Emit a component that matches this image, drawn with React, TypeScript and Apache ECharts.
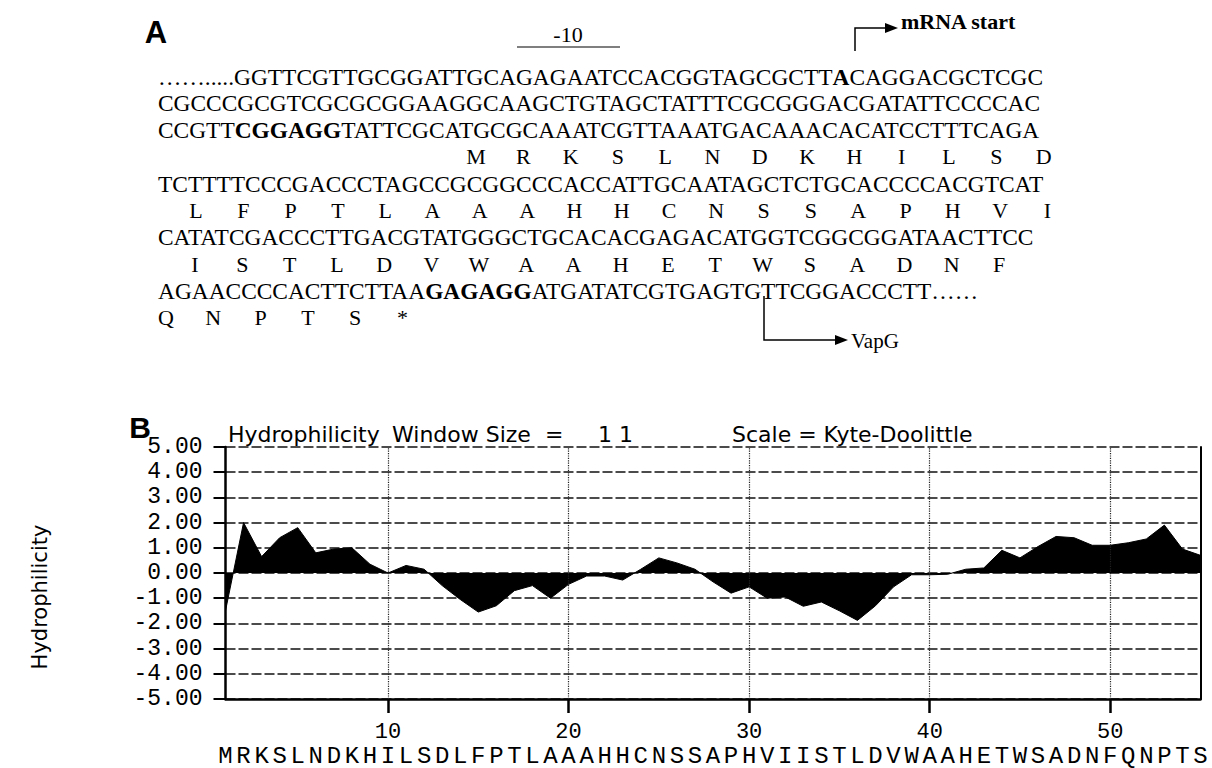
import React, { useEffect, useRef } from "react";
import * as echarts from "echarts";

const SERIF = '"Liberation Serif", "Times New Roman", serif';
const SANS = '"Liberation Sans", Arial, sans-serif';
const WIDE_SANS = '"DejaVu Sans", "Liberation Sans", sans-serif';
const MONO = '"Liberation Mono", "Courier New", monospace';

// Panel B data
const residues = "MRKSLNDKHILSDLFPTLAAAHHCNSSAPHVIISTLDVWAAHETWSADNFQNPTS".split("");
const hydrophilicity = [
  -1.5, 2.0, 0.65, 1.4, 1.8, 0.8, 0.95, 1.0, 0.35, 0.0,
  0.3, 0.15, -0.5, -1.05, -1.55, -1.3, -0.7, -0.5, -1.0, -0.45,
  -0.12, -0.12, -0.28, 0.15, 0.6, 0.4, 0.15, -0.35, -0.8, -0.55,
  -1.0, -0.95, -1.32, -1.15, -1.5, -1.88, -1.3, -0.55, -0.07, -0.07,
  -0.05, 0.15, 0.2, 0.9, 0.6, 1.05, 1.45, 1.4, 1.1, 1.1,
  1.2, 1.35, 1.9, 0.95, 0.7,
];
const xTicks = [10, 20, 30, 40, 50];
const yMin = -5;
const yMax = 5;

// Panel A sequence text
type Seg = [string, boolean];
const dnaLines: { row: number; segs: Seg[] }[] = [
  { row: 0, segs: [["…….....", false], ["GGTTCGTTGCGGATTGCAGAGAATCCACGGTAGCGCTT", false], ["A", true], ["CAGGACGCTCGC", false]] },
  { row: 1, segs: [["CGCCCGCGTCGCGCGGAAGGCAAGCTGTAGCTATTTCGCGGGACGATATTCCCCAC", false]] },
  { row: 2, segs: [["CCGTT", false], ["CGGAGG", true], ["TATTCGCATGCGCAAATCGTTAAATGACAAACACATCCTTTCAGA", false]] },
  { row: 4, segs: [["TCTTTTCCCGACCCTAGCCGCGGCCCACCATTGCAATAGCTCTGCACCCCACGTCAT", false]] },
  { row: 6, segs: [["CATATCGACCCTTGACGTATGGGCTGCACACGAGACATGGTCGGCGGATAACTTCC", false]] },
  { row: 8, segs: [["AGAACCCCACTTCTTAA", false], ["GAGAGG", true], ["ATGATATCGTGAGTGTTCGGACCCTT……", false]] },
];
const aaRows: { row: number; x0: number; letters: string[] }[] = [
  { row: 3, x0: 476, letters: ["M", "R", "K", "S", "L", "N", "D", "K", "H", "I", "L", "S", "D"] },
  { row: 5, x0: 196, letters: ["L", "F", "P", "T", "L", "A", "A", "A", "H", "H", "C", "N", "S", "S", "A", "P", "H", "V", "I"] },
  { row: 7, x0: 195, letters: ["I", "S", "T", "L", "D", "V", "W", "A", "A", "H", "E", "T", "W", "S", "A", "D", "N", "F"] },
  { row: 9, x0: 166, letters: ["Q", "N", "P", "T", "S", "*"] },
];

const rowY = (k: number) => 76.5 + 26.8 * k;
const CODON = 47.3;
const SEQ_FONT = 23.4;

function buildGraphics(): any[] {
  const g: any[] = [];
  const txt = (x: number, y: number, text: string, font: string, align = "left", extra: any = {}) => ({
    type: "text",
    x,
    y,
    silent: true,
    ...extra,
    style: { text, font, fill: "#000", align, verticalAlign: "middle" },
  });
  // Panel labels
  g.push(txt(156, 32, "A", `bold 31px ${SANS}`, "center"));
  g.push(txt(140, 427, "B", `bold 30px ${SANS}`, "center"));
  // -10 box
  g.push(txt(568, 34, "-10", `22px ${SERIF}`, "center"));
  g.push({ type: "line", silent: true, shape: { x1: 517, y1: 47, x2: 620, y2: 47 }, style: { stroke: "#000", lineWidth: 1.2 } });
  // mRNA start
  g.push({ type: "polyline", silent: true, shape: { points: [[855, 51], [855, 28], [887, 28]] }, style: { stroke: "#000", lineWidth: 1.5, fill: null } });
  g.push({ type: "polygon", silent: true, shape: { points: [[885, 23], [898, 28], [885, 33]] }, style: { fill: "#000" } });
  g.push(txt(901, 21, "mRNA start", `bold 22px ${SERIF}`));
  // sequence lines
  dnaLines.forEach((l) => {
    const s = l.segs.map(([t, b]) => (b ? `{b|${t}}` : `{n|${t}}`)).join("");
    g.push({
      type: "text",
      x: 158,
      y: rowY(l.row),
      silent: true,
      style: {
        text: s,
        font: `${SEQ_FONT}px ${SERIF}`,
        fill: "#000",
        align: "left",
        verticalAlign: "middle",
        rich: {
          n: { fontSize: SEQ_FONT, fontFamily: SERIF, fill: "#000" },
          b: { fontSize: SEQ_FONT, fontFamily: SERIF, fontWeight: "bold", fill: "#000" },
        },
      },
    });
  });
  aaRows.forEach((r) => {
    r.letters.forEach((c, i) => {
      g.push(txt(r.x0 + i * CODON, rowY(r.row), c, `22px ${SERIF}`, "center"));
    });
  });
  // VapG arrow
  g.push({ type: "polyline", silent: true, shape: { points: [[764, 296], [764, 340], [838, 340]] }, style: { stroke: "#000", lineWidth: 1.5, fill: null } });
  g.push({ type: "polygon", silent: true, shape: { points: [[835, 335], [848, 340], [835, 345]] }, style: { fill: "#000" } });
  g.push(txt(851, 341, "VapG", `21px ${SERIF}`));
  // Panel B title
  const TF = `22px ${WIDE_SANS}`;
  g.push(txt(228, 434, "Hydrophilicity", TF));
  g.push(txt(392, 434, "Window Size  =", TF));
  g.push(txt(598, 434, "1 1", TF));
  g.push(txt(732, 434, "Scale = Kyte-Doolittle", TF));
  // y axis name
  g.push({
    type: "text",
    x: 40,
    y: 597,
    rotation: Math.PI / 2,
    silent: true,
    style: { text: "Hydrophilicity", font: `21px ${WIDE_SANS}`, fill: "#000", align: "center", verticalAlign: "middle" },
  });
  return g;
}

export default function App() {
  const ref = useRef<HTMLDivElement>(null);
  useEffect(() => {
    if (!ref.current) return;
    const chart = echarts.init(ref.current, null, { renderer: "svg" });
    const positions = residues.map((_, i) => i + 1);
    const option: any = {
      animation: false,
      backgroundColor: "#fff",
      grid: { left: 225.5, right: 11.5, top: 447, bottom: 69, containLabel: false, outerBoundsMode: "none" },
      xAxis: [
        {
          type: "value",
          min: 1,
          max: 55,
          position: "bottom",
          axisLine: { show: true, onZero: false, lineStyle: { color: "#000", width: 2.5 } },
          axisTick: { show: true, customValues: xTicks, length: 14, inside: false, lineStyle: { color: "#000", width: 2.5 } },
          axisLabel: { customValues: xTicks, color: "#000", fontFamily: MONO, fontSize: 22, margin: 22 },
          splitLine: { show: false },
        },
        {
          type: "value",
          min: 1,
          max: 55,
          position: "bottom",
          axisLine: { show: false, onZero: false },
          axisTick: { show: false },
          axisLabel: {
            customValues: positions,
            formatter: (v: number) => residues[Math.round(v) - 1] || "",
            color: "#000",
            fontFamily: MONO,
            fontSize: 24,
            margin: 45,
          },
          splitLine: { show: false },
        },
      ],
      yAxis: [
        {
          type: "value",
          min: yMin,
          max: yMax,
          interval: 1,
          axisLine: { show: true, onZero: false, lineStyle: { color: "#000", width: 2.5 } },
          axisTick: { show: true, length: 12, lineStyle: { color: "#000", width: 2 } },
          axisLabel: {
            formatter: (v: number) => v.toFixed(2),
            fontFamily: MONO,
            fontSize: 23,
            color: "#000",
            margin: 23,
          },
          splitLine: { show: true, lineStyle: { color: "#111", width: 1.6, type: [10, 3] } },
        },
        {
          type: "value",
          min: yMin,
          max: yMax,
          position: "right",
          axisLine: { show: true, onZero: false, lineStyle: { color: "#000", width: 2 } },
          axisTick: { show: false },
          axisLabel: { show: false },
          splitLine: { show: false },
        },
      ],
      series: [
        {
          type: "line",
          xAxisIndex: 0,
          yAxisIndex: 0,
          data: hydrophilicity.map((v, i) => [i + 1, v]),
          symbol: "none",
          lineStyle: { color: "#000", width: 1 },
          areaStyle: { color: "#000", opacity: 1, origin: 0 },
          markLine: {
            silent: true,
            symbol: "none",
            label: { show: false },
            lineStyle: { color: "#222", width: 1.2, type: "dotted" },
            data: xTicks.map((v) => ({ xAxis: v })),
          },
        },
      ],
      graphic: buildGraphics(),
    };
    chart.setOption(option);
    return () => chart.dispose();
  }, []);
  return (
    <div
      ref={ref}
      style={{ position: "fixed", left: 0, top: 0, width: 1212, height: 768, background: "#fff" }}
    />
  );
}
